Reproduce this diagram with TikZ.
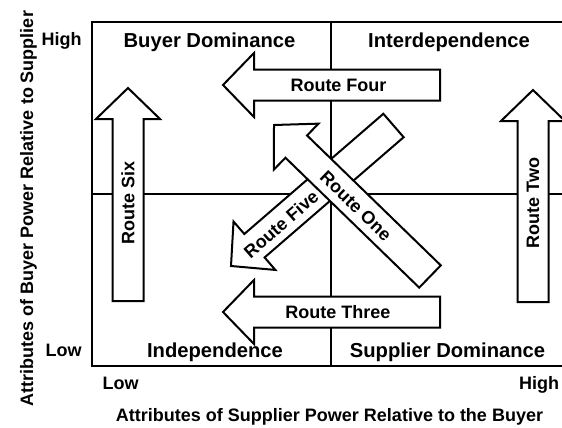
\documentclass[tikz,border=0pt]{standalone}
\usepackage{fontspec}
\setmainfont{Liberation Sans}
\usetikzlibrary{calc}
\tikzset{
  quadlabel/.style={font=\fontsize{10.1}{12}\selectfont\bfseries},
  routelabel/.style={font=\fontsize{9}{11}\selectfont\bfseries},
  axislabel/.style={font=\fontsize{9}{11}\selectfont\bfseries},
  routebox/.style={draw=black,fill=white,line width=1pt,line join=miter},
  gridline/.style={line width=0.6pt},
}
% block arrow from #1 (tail) to #2 (tip)
\newcommand{\blockarrow}[2]{%
  \coordinate (hb) at ($(#2)!15.5pt!(#1)$);
  \filldraw[routebox] ($(#1)!7.75pt!90:(#2)$) -- ($(hb)!7.75pt!-90:(#1)$)
    -- ($(hb)!16pt!-90:(#1)$) -- (#2) -- ($(hb)!16pt!90:(#1)$)
    -- ($(hb)!7.75pt!90:(#1)$) -- ($(#1)!7.75pt!-90:(#2)$) -- cycle;}
\begin{document}
\begin{tikzpicture}[x=0.5pt,y=-0.5pt]
  \useasboundingbox (0,0) rectangle (562,428);
  % frame and quadrants
  \draw[gridline] (562,22) -- (92,22) -- (92,366) -- (562,366);
  \draw[gridline] (331,22) -- (331,366);
  \draw[gridline] (92,194) -- (562,194);
  % arrow ends
  \coordinate (sixtail) at (128,301);   \coordinate (sixtip) at (128,88);
  \coordinate (twotail) at (533,302);   \coordinate (twotip) at (533,90);
  \coordinate (fourtail) at (440,85);   \coordinate (fourtip) at (223,85);
  \coordinate (threetail) at (440,312); \coordinate (threetip) at (223,312);
  \coordinate (fivetail) at (393.5,125.5); \coordinate (fivetip) at (231,266);
  \coordinate (onetail) at (430,276.5); \coordinate (onetip) at (274,125);
  \blockarrow{sixtail}{sixtip}
  \blockarrow{twotail}{twotip}
  \blockarrow{fourtail}{fourtip}
  \blockarrow{threetail}{threetip}
  \blockarrow{fivetail}{fivetip}
  \blockarrow{onetail}{onetip}
  % route labels
  \node[routelabel,rotate=90] (rsix) at (128,203) {Route Six};
  \node[routelabel,rotate=90] (rtwo) at (533,203) {Route Two};
  \node[routelabel] (rfour) at (338.5,85) {Route Four};
  \node[routelabel] (rthree) at (338,312) {Route Three};
  \node[routelabel,rotate=-44] (rone) at (356,206) {Route One};
  \node[routelabel,rotate=41] (rfive) at (281,224) {Route Five};
  % quadrant labels
  \node[quadlabel,anchor=base] (buyerdom) at (209.5,47) {Buyer Dominance};
  \node[quadlabel,anchor=base] (interdep) at (449,47) {Interdependence};
  \node[quadlabel,anchor=base] (indep) at (215,357) {Independence};
  \node[quadlabel,anchor=base] (supplierdom) at (447.5,357) {Supplier Dominance};
  % axes
  \node[axislabel,anchor=base] (yhigh) at (61.5,46) {High};
  \node[axislabel,anchor=base] (ylow) at (63.5,356) {Low};
  \node[axislabel,anchor=base] (xlow) at (120.5,389) {Low};
  \node[axislabel,anchor=base] (xhigh) at (539,389) {High};
  \node[axislabel,anchor=base] (xtitle) at (329.5,421) {Attributes of Supplier Power Relative to the Buyer};
  \node[axislabel,anchor=base,rotate=90] (ytitle) at (33,208.5) {Attributes of Buyer Power Relative to Supplier};
\end{tikzpicture}
\end{document}
